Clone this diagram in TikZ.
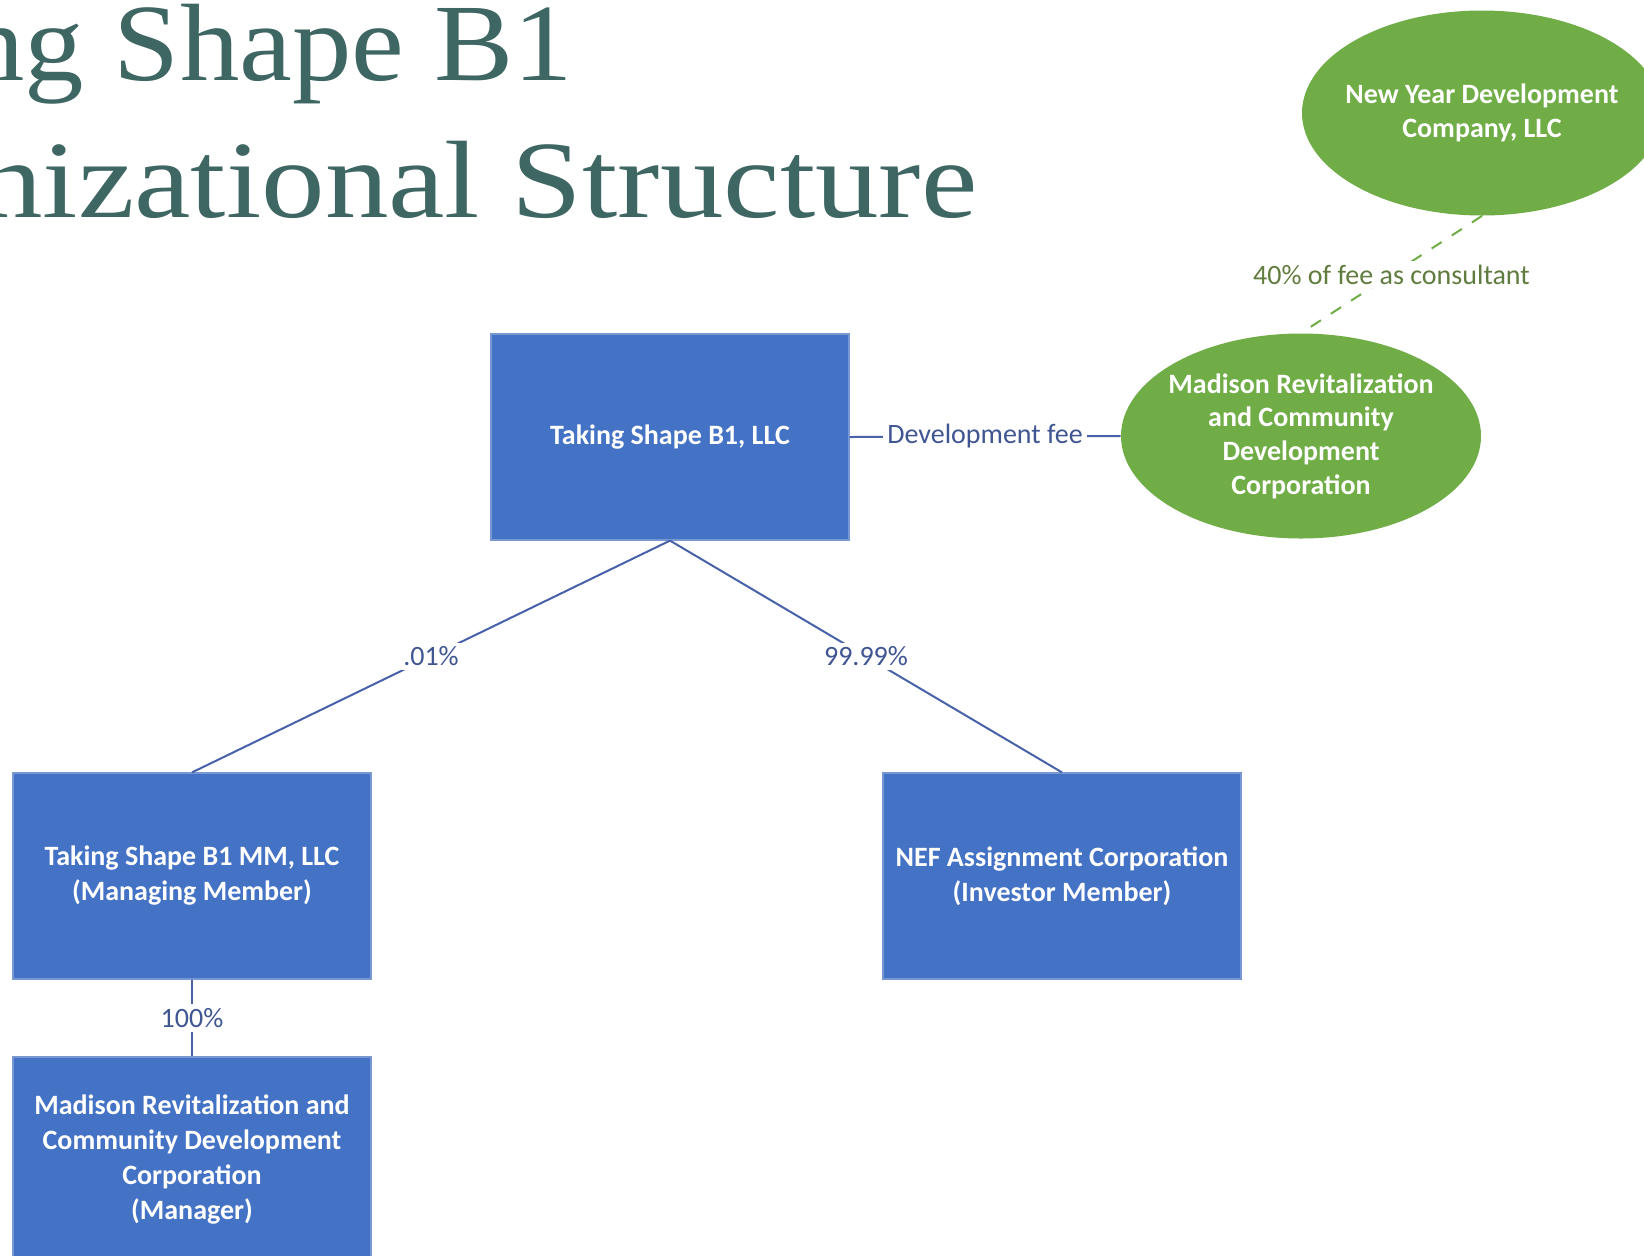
\documentclass[tikz,border=0pt]{standalone}
\usepackage{fontspec}
\setmainfont{Carlito}
\newfontfamily\titlefont{Liberation Serif}
\usetikzlibrary{shapes.geometric}
\definecolor{boxblue}{RGB}{68,114,196}
\definecolor{boxedge}{RGB}{120,152,212}
\definecolor{leafgreen}{RGB}{112,173,71}
\definecolor{linkblue}{RGB}{72,98,170}
\definecolor{labelblue}{RGB}{64,86,146}
\definecolor{feegreen}{RGB}{96,124,62}
\definecolor{titleteal}{RGB}{62,102,98}
\begin{document}
\begin{tikzpicture}[x=0.5pt,y=-0.5pt,
  orgbox/.style={rectangle, fill=boxblue, draw=boxedge, line width=0.6pt,
    minimum width=179pt, minimum height=103pt, inner sep=0pt, align=center,
    text=white, font=\bfseries\fontsize{14}{17.5}\selectfont},
  orgoval/.style={ellipse, fill=leafgreen, draw=none,
    minimum width=180pt, minimum height=102.5pt, inner xsep=-5pt, inner ysep=0pt, align=center,
    text=white, font=\bfseries\fontsize{14}{16.8}\selectfont},
  link/.style={draw=linkblue, line width=1pt},
  pct/.style={fill=white, inner sep=2pt, text=labelblue, font=\fontsize{14}{16}\selectfont},
  feelink/.style={draw=leafgreen, line width=1pt, dash pattern=on 6pt off 6pt},
  feelabel/.style={fill=white, inner sep=2pt, text=feegreen, font=\fontsize{14}{16}\selectfont},
  titletext/.style={text=titleteal, inner sep=0pt, font=\titlefont\fontsize{55}{60}\selectfont}
]
\useasboundingbox (0,0) rectangle (1644,1255);
\fill[white] (0,0) rectangle (1644,1255);

% title
\node[titletext, anchor=base east] (title1) at (573,80) {\scalebox{1.08}[1]{Taking Shape B1}};
\node[titletext, anchor=base east] (title2) at (978,217) {\scalebox{1.155}[1]{Organizational Structure}};

% nodes
\node[orgbox] (top) at (670,437) {Taking Shape B1, LLC};
\node[orgbox] (mm) at (192,876) {Taking Shape B1 MM, LLC\\(Managing Member)};
\node[orgbox] (nef) at (1062,876) {NEF Assignment Corporation\\(Investor Member)};
\node[orgbox] (mgr) at (192,1160) {Madison Revitalization and\\Community Development\\Corporation\\(Manager)};
\node[orgoval] (ny) at (1482,113) {New Year Development\\Company, LLC};
\node[orgoval] (mr) at (1301,436) {Madison Revitalization\\and Community\\Development\\Corporation};

% connectors
\draw[link] (top.south) -- node[pct] {.01\%} (mm.north);
\draw[link] (top.south) -- node[pct] {99.99\%} (nef.north);
\draw[link] (mm.south) -- node[pct] {100\%} (mgr.north);
\draw[link] (top.east) -- node[pct] {Development fee} (mr.west);
\draw[feelink] (ny.south) -- node[feelabel] {40\% of fee as consultant} (mr.north);
\end{tikzpicture}
\end{document}
